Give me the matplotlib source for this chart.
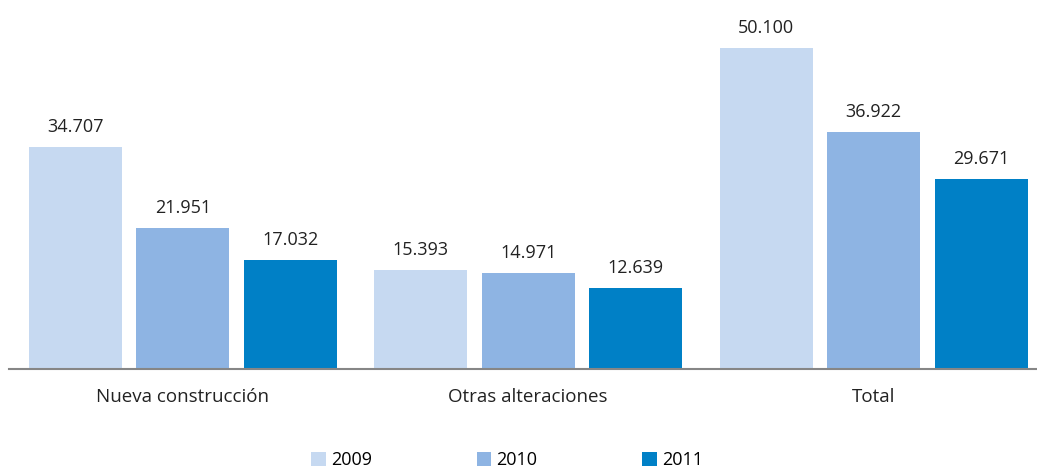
import numpy as np
import matplotlib.pyplot as plt

# datos
categorias = ["Nueva construcción", "Otras alteraciones", "Total"]
anios = ["2009", "2010", "2011"]
v2009 = [34707, 15393, 50100]
v2010 = [21951, 14971, 36922]
v2011 = [17032, 12639, 29671]

colores = ["#C6D9F1", "#8EB4E3", "#0080C6"]

plt.rcParams['font.family'] = ['Open Sans', 'DejaVu Sans']

fig = plt.figure(figsize=(10.37, 4.68), dpi=100)
ax = fig.add_axes([9/1037, 1 - 369/468, 1027/1037, 369/468])

x = np.arange(len(categorias))
paso = 0.311
ancho = 0.269
series = [v2009, v2010, v2011]
for i, (serie, c, a) in enumerate(zip(series, colores, anios)):
    pos = x + (i - 1) * paso
    barras = ax.bar(pos, serie, width=ancho, color=c, label=a)
    for b, v in zip(barras, serie):
        ax.annotate(f"{v:,}".replace(",", "."),
                    (b.get_x() + b.get_width() / 2, v),
                    xytext=(0, 8), textcoords="offset points",
                    ha="center", va="bottom", fontsize=13, color="#222222")

ax.set_xlim(-0.503, 2.47)
ax.set_ylim(0, 57590)
for s in ["top", "right", "left"]:
    ax.spines[s].set_visible(False)
ax.spines["bottom"].set_color("#868686")
ax.spines["bottom"].set_linewidth(1.5)
ax.set_yticks([])
ax.set_xticks(x)
ax.set_xticklabels(categorias, fontsize=13.5, color="#222222")
ax.tick_params(axis="x", length=0, pad=14)

fig.legend(loc="center", bbox_to_anchor=(0.489, 1 - 460/468), ncol=3,
           frameon=False, fontsize=13, handlelength=0.8, handleheight=0.8,
           handletextpad=0.3, columnspacing=5.8)

plt.savefig("out.png", dpi=100)
